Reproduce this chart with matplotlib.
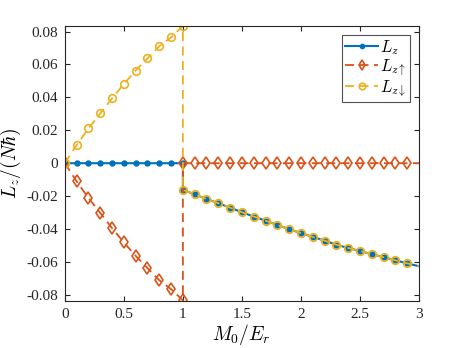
import matplotlib
matplotlib.use("Agg")
import matplotlib.pyplot as plt
import numpy as np
from matplotlib.ticker import FuncFormatter

plt.rcParams['font.family'] = ['Liberation Serif', 'DejaVu Serif']
plt.rcParams['mathtext.fontset'] = 'cm'

# x data (duplicate point at 1.0 for the jump)
x = [0.0, 0.1, 0.2, 0.3, 0.4, 0.5, 0.6, 0.7, 0.8, 0.9, 1.0,
     1.0, 1.1, 1.2, 1.3, 1.4, 1.5, 1.6, 1.7, 1.8, 1.9, 2.0,
     2.1, 2.2, 2.3, 2.4, 2.5, 2.6, 2.7, 2.8, 2.9, 3.0]

L_down_left = [0.0, 0.0110, 0.0211, 0.0302, 0.0394, 0.0481, 0.0563, 0.0637, 0.0711, 0.0765, 0.0833]
L_down_right = [-0.0162, -0.0189, -0.0217, -0.0243, -0.0270, -0.0298, -0.0324, -0.0349, -0.0375,
                -0.0401, -0.0424, -0.0448, -0.0470, -0.0495, -0.0515, -0.0533, -0.0553, -0.0571,
                -0.0590, -0.0608, -0.0626]
L_up_left = [0.0, -0.0110, -0.0211, -0.0302, -0.0394, -0.0481, -0.0563, -0.0637, -0.0711, -0.0765, -0.0833]
L_up_right = [0.0] * 21

L_down = L_down_left + L_down_right
L_up = L_up_left + L_up_right
Lz = [a + b for a, b in zip(L_up, L_down)]

c_blue = '#0072BD'
c_red = '#D95319'
c_yel = '#EDB120'

fig = plt.figure(figsize=(4.63, 3.48), dpi=100)
ax = fig.add_axes([0.140, 0.136, 0.765, 0.790])

mk = list(range(len(x) - 1))
ax.plot(x, Lz, '-', color=c_blue, lw=1.5, marker='o', ms=3.6, mfc=c_blue, mec=c_blue,
        markevery=mk, label=r'$L_z$')
ax.plot(x, L_up, '--', color=c_red, lw=1.3, marker='d', ms=6.0, mfc='none', mec=c_red, mew=1.2,
        markevery=mk, label=r'$L_{z\uparrow}$', dashes=(5, 3))
ax.plot(x, L_down, '--', color=c_yel, lw=1.3, marker='o', ms=5.5, mfc='none', mec=c_yel, mew=1.2,
        markevery=mk, label=r'$L_{z\downarrow}$', dashes=(5, 3))

ax.set_xlim(0, 3)
ax.set_ylim(-0.0835, 0.0835)
ax.set_xticks([0, 0.5, 1, 1.5, 2, 2.5, 3])
ax.set_yticks([-0.08, -0.06, -0.04, -0.02, 0, 0.02, 0.04, 0.06, 0.08])

def yfmt(v, p):
    if abs(v) < 1e-9:
        return '0'
    return '%.2f' % v

def xfmt(v, p):
    if abs(v - round(v)) < 1e-9:
        return '%d' % round(v)
    return '%g' % v

ax.yaxis.set_major_formatter(FuncFormatter(yfmt))
ax.xaxis.set_major_formatter(FuncFormatter(xfmt))

for s in ax.spines.values():
    s.set_color('#262626')
    s.set_linewidth(0.8)
ax.tick_params(direction='in', top=True, right=True, length=3.5, width=0.8,
               colors='#262626', labelsize=11, labelcolor='#262626', pad=5)

ax.set_xlabel(r'$M_0/E_r$', fontsize=14, labelpad=1)
ax.set_ylabel(r'$L_z/(N\hbar)$', fontsize=14, labelpad=2)

leg = ax.legend(loc='upper right', fontsize=12, handlelength=2.0, frameon=True,
                fancybox=False, edgecolor='#262626', borderpad=0.2, labelspacing=0.0,
                handletextpad=0.1, borderaxespad=0.55, markerscale=0.85)
leg.get_frame().set_linewidth(0.8)

fig.savefig('out.png', dpi=100)
